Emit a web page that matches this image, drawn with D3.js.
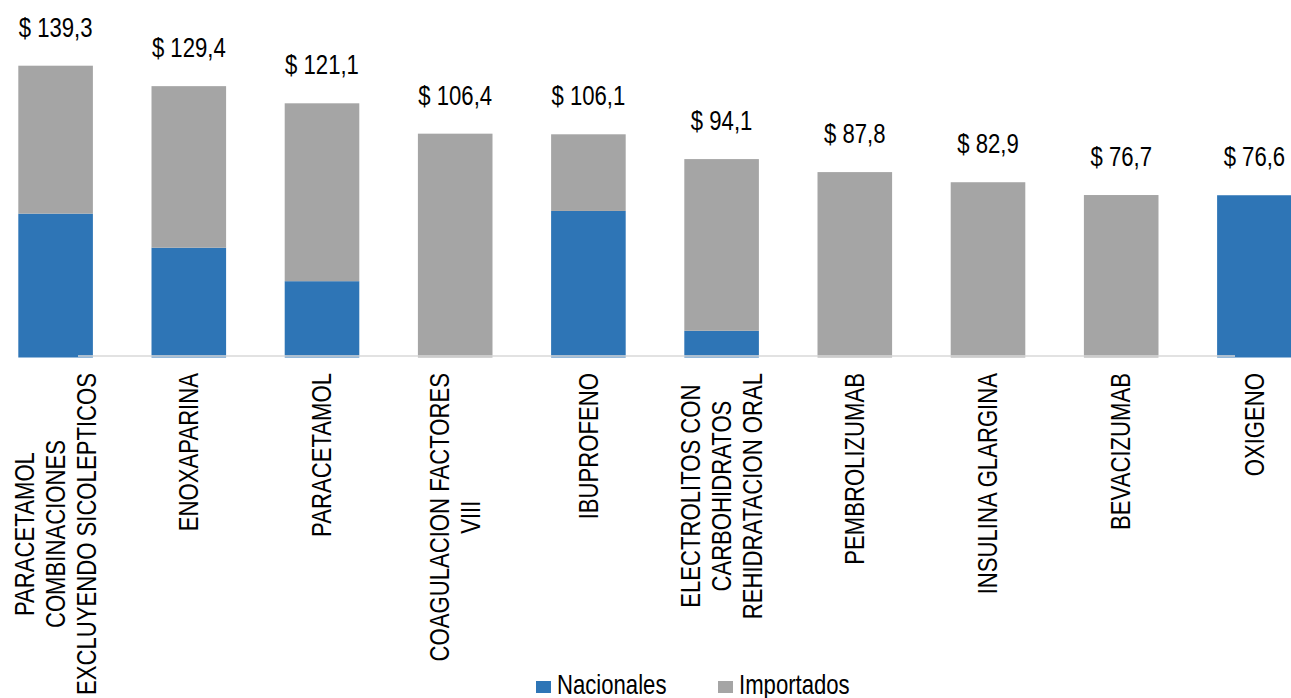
<!DOCTYPE html>
<html>
<head>
<meta charset="utf-8">
<script src="https://cdn.jsdelivr.net/npm/d3@7"></script>
<style>
  html, body { margin: 0; padding: 0; background: #fff; overflow: hidden; }
  svg { display: block; }
  text { font-family: "Liberation Sans Narrow", "Arial Narrow", "Liberation Sans", Arial, sans-serif; fill: #000; }
</style>
</head>
<body>
<svg id="chart" width="1291" height="698"></svg>
<script>
// ---- data ----
const categories = [
  ["PARACETAMOL", "COMBINACIONES", "EXCLUYENDO SICOLEPTICOS"],
  ["ENOXAPARINA"],
  ["PARACETAMOL"],
  ["COAGULACION FACTORES", "VIII"],
  ["IBUPROFENO"],
  ["ELECTROLITOS CON", "CARBOHIDRATOS", "REHIDRATACION ORAL"],
  ["PEMBROLIZUMAB"],
  ["INSULINA GLARGINA"],
  ["BEVACIZUMAB"],
  ["OXIGENO"]
];
const totals     = [139.3, 129.4, 121.1, 106.4, 106.1, 94.1, 87.8, 82.9, 76.7, 76.6];
const nacionales = [67.7, 51.2, 35.0, 0, 69.0, 11.0, 0, 0, 0, 76.6];
const importados = totals.map((t, i) => +(t - nacionales[i]).toFixed(1));
const seriesNames = ["Nacionales", "Importados"];
const seriesColors = ["#2E75B6", "#A5A5A5"];

// ---- layout ----
const baseY = 353.5, topY = 65.7, barBottom = 357.5;
const SX = 0.82;          // condensed look (narrow font)
const FS = 27;
const svg = d3.select("#chart");

const keys = categories.map((c, i) => "c" + i);
const x = d3.scaleBand().domain(keys).range([-11, 1321]).paddingInner(0.44).paddingOuter(0.22);
const y = d3.scaleLinear().domain([0, 139.3]).range([baseY, topY]);

const rows = keys.map((k, i) => ({ key: k, Nacionales: nacionales[i], Importados: importados[i] }));
const stack = d3.stack().keys(seriesNames)(rows);

// bars
svg.append("g").selectAll("g")
  .data(stack).join("g")
  .attr("fill", (d, i) => seriesColors[i])
  .selectAll("rect")
  .data(d => d.filter(e => e[1] > e[0])).join("rect")
  .attr("x", d => x(d.data.key))
  .attr("width", x.bandwidth())
  .attr("y", d => y(d[1]))
  .attr("height", d => (d[0] === 0 ? barBottom : y(d[0])) - y(d[1]));

// axis line
svg.append("line")
  .attr("x1", 78).attr("x2", 1235)
  .attr("y1", 356).attr("y2", 356)
  .attr("stroke", "#d9d9d9").attr("stroke-width", 1.5);

// value labels
svg.append("g").selectAll("text")
  .data(totals).join("text")
  .attr("transform", (d, i) => `translate(${x(keys[i]) + x.bandwidth() / 2},${y(d) - 29}) scale(${SX},1)`)
  .attr("text-anchor", "middle")
  .style("font-size", FS + "px")
  .text(d => "$ " + d.toFixed(1).replace(".", ","));

// category labels (rotated, multi-line, centered lines, top-aligned block)
const lineH = 31;
const labelTop = 373;
categories.forEach((lines, i) => {
  const cx = x(keys[i]) + x.bandwidth() / 2;
  const t = svg.append("text")
    .attr("transform", `translate(${cx},0) rotate(-90) scale(${SX},1)`)
    .attr("text-anchor", "middle")
    .style("font-size", FS + "px");
  const n = lines.length;
  const spans = t.selectAll("tspan").data(lines).join("tspan")
    .attr("dominant-baseline", "central")
    .attr("y", (d, j) => (j - (n - 1) / 2) * lineH)
    .text(d => d);
  let maxW = 0;
  spans.each(function() { maxW = Math.max(maxW, this.getComputedTextLength()); });
  spans.attr("x", -(labelTop / SX + maxW / 2));
});

// legend
const legend = svg.append("g");
const legX = [536, 718];
seriesNames.forEach((s, i) => {
  legend.append("rect")
    .attr("x", legX[i]).attr("y", 681)
    .attr("width", 15).attr("height", 12)
    .attr("fill", seriesColors[i]);
  legend.append("text")
    .attr("transform", `translate(${legX[i] + 21},694) scale(${SX},1)`)
    .style("font-size", FS + "px")
    .text(s);
});
</script>
</body>
</html>
